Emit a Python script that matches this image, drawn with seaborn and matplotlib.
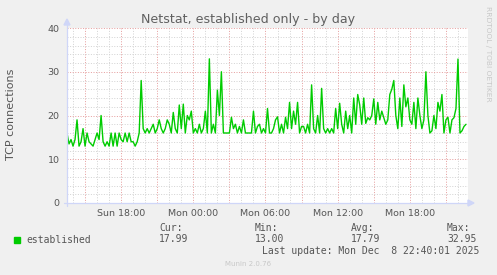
import pandas as pd
import matplotlib
matplotlib.use("Agg")
import matplotlib.pyplot as plt
import matplotlib.dates as mdates
from matplotlib.ticker import MultipleLocator, FixedLocator, FuncFormatter
from matplotlib.patches import Polygon, Rectangle
from matplotlib.lines import Line2D
import seaborn as sns

# ---------------- data (10-minute samples) ----------------
start_time = "2025-12-07 13:30"
sample_step = "10min"
x_start = "2025-12-07 13:30"
x_end = "2025-12-08 22:50"

established = [
    16, 13.5, 14.5, 13, 14.5, 19, 13, 14, 17, 13,
    16, 14, 13.5, 13, 14.5, 16, 14.5, 20, 14, 13,
    14, 13, 16, 13, 16, 13, 16, 14.5, 14, 16,
    14, 16, 14, 14, 13, 14, 16, 28, 17, 16,
    17, 16, 17, 18, 16, 17, 19, 17, 16, 17,
    19, 18,
    16, 20.7, 17, 16, 22.4, 17, 22.6, 16, 20, 19,
    21, 16, 17, 16, 18, 16, 17, 21, 16, 32.95,
    16, 18, 16, 25.8, 20, 30, 16, 16, 16, 16,
    19.6, 17, 18, 16, 17.5, 16, 19, 16, 16, 16,
    16, 21, 16, 17.5, 18, 16, 17, 16,
    21.6, 16, 16, 17, 19, 19.7, 16, 18, 16, 19.6,
    17, 23, 17, 21, 18, 23, 16, 17.5, 17.5, 16,
    18, 16, 27, 17, 16, 20, 16, 26.2, 17, 16,
    17, 16, 17, 16, 21.6, 17, 22.8, 18, 16, 21,
    17, 20, 16, 24, 18, 24.8, 22.4, 18, 24, 18.2,
    19.5, 19, 20, 23.8, 18, 23, 19, 21, 19.5, 18,
    19, 24.8, 26, 28, 20, 17, 24, 17.5, 27, 22,
    24, 19, 18, 23, 17, 24, 20, 17, 19, 30,
    20, 16, 16.5, 20, 17, 23, 21, 24.8, 16, 19,
    19.6, 16, 19, 19.5, 21.6, 32.9, 16, 16.5, 17.5, 17.99,
]

y_ticks = [0, 10, 20, 30, 40]
series_name = "established"
stat_names = ["Cur:", "Min:", "Avg:", "Max:"]
stat_values = ["17.99", "13.00", "17.79", "32.95"]
title_text = "Netstat, established only - by day"
y_label = "TCP connections"
last_update = "Last update: Mon Dec  8 22:40:01 2025"
watermark = "RRDTOOL / TOBI OETIKER"
footer = "Munin 2.0.76"

# ---------------- styling ----------------
sns.set_theme(style="white")
plt.rcParams["font.family"] = ["DejaVu Sans"]

W, H = 497, 275
BG = "#F0F0F0"
FONT = "#555555"
LINE = "#00CC00"
AXIS = "#CFD6F8"
MGRID = "#E6A0A0"
GRID = "#D4D4D4"

fig = plt.figure(figsize=(W / 100, H / 100), dpi=100, facecolor=BG)
L, R, T, B = 67, 468, 28, 203
ax = fig.add_axes([L / W, 1 - B / H, (R - L) / W, (B - T) / H])
ax.set_facecolor("white")


def fx(x):
    return x / W


def fy(y):
    return 1 - y / H


df = pd.DataFrame({
    "time": pd.date_range(start_time, periods=len(established), freq=sample_step),
    series_name: established,
})
sns.lineplot(data=df, x="time", y=series_name, color=LINE, lw=1.0, ax=ax, zorder=3)

ax.set_xlim(pd.Timestamp(x_start), pd.Timestamp(x_end))
ax.set_ylim(y_ticks[0], y_ticks[-1])
ax.set_xlabel("")
ax.set_ylabel("")

ax.xaxis.set_major_locator(mdates.HourLocator(byhour=range(0, 24, 3)))
ax.xaxis.set_minor_locator(mdates.HourLocator())


def xfmt(v, pos):
    d = mdates.num2date(v)
    return d.strftime("%a %H:%M") if d.hour % 6 == 0 else ""


ax.xaxis.set_major_formatter(FuncFormatter(xfmt))
ax.yaxis.set_major_locator(FixedLocator(y_ticks))
ax.yaxis.set_minor_locator(MultipleLocator(2))
ax.yaxis.set_major_formatter(FuncFormatter(lambda v, p: f"{v:.0f}"))

dot = (0, (1, 1.6))
ax.grid(which="minor", color=GRID, linestyle=dot, lw=0.72)
ax.grid(which="major", color=MGRID, linestyle=dot, lw=0.72)
ax.set_axisbelow(True)

for s in ax.spines.values():
    s.set_visible(False)

ax.tick_params(which="major", length=2.2, width=0.72, color=MGRID,
               labelsize=6.8, labelcolor=FONT)
ax.tick_params(which="minor", length=1.5, width=0.72, color=GRID)
ax.tick_params(axis="y", which="major", pad=3.2)
ax.tick_params(axis="x", which="major", pad=2.0)

# axis lines with arrows (rrdtool style)
fig.add_artist(Line2D([fx(L), fx(L)], [fy(B + 3), fy(22)], color=AXIS, lw=0.9))
fig.add_artist(Line2D([fx(L - 3), fx(470)], [fy(B), fy(B)], color=AXIS, lw=0.9))
fig.add_artist(Polygon([(fx(L - 3), fy(25)), (fx(L + 3), fy(25)), (fx(L), fy(19))],
                       closed=True, color=AXIS, transform=fig.transFigure))
fig.add_artist(Polygon([(fx(468), fy(B - 3)), (fx(468), fy(B + 3)), (fx(474), fy(B))],
                       closed=True, color=AXIS, transform=fig.transFigure))

# texts
fig.text(fx(248.5), fy(19), title_text, ha="center", va="center", fontsize=9.1, color="#606060")
fig.text(fx(11), fy(114), y_label, ha="center", va="center", rotation=90, fontsize=8, color=FONT)
fig.text(fx(488), fy(53.5), watermark, ha="center", va="center", rotation=270,
         fontsize=5.4, color="#C8C8C8")

mono = "DejaVu Sans Mono"
fig.add_artist(Rectangle((fx(14), fy(243)), 6 / W, 6 / H, color=LINE, transform=fig.transFigure))
fig.text(fx(26), fy(240), series_name, ha="left", va="center", fontsize=7, family=mono, color=FONT)
stat_x = [159, 255, 351, 447]
for sx, n, v in zip(stat_x, stat_names, stat_values):
    fig.text(fx(sx), fy(228), n, ha="left", va="center", fontsize=7, family=mono, color=FONT)
    fig.text(fx(sx), fy(239.5), v, ha="left", va="center", fontsize=7, family=mono, color=FONT)
fig.text(fx(262), fy(251), last_update, ha="left", va="center", fontsize=7, family=mono, color=FONT)
fig.text(fx(248), fy(264), footer, ha="center", va="center", fontsize=5, color="#C8C8C8")

fig.savefig("out.png", dpi=100, facecolor=BG)
